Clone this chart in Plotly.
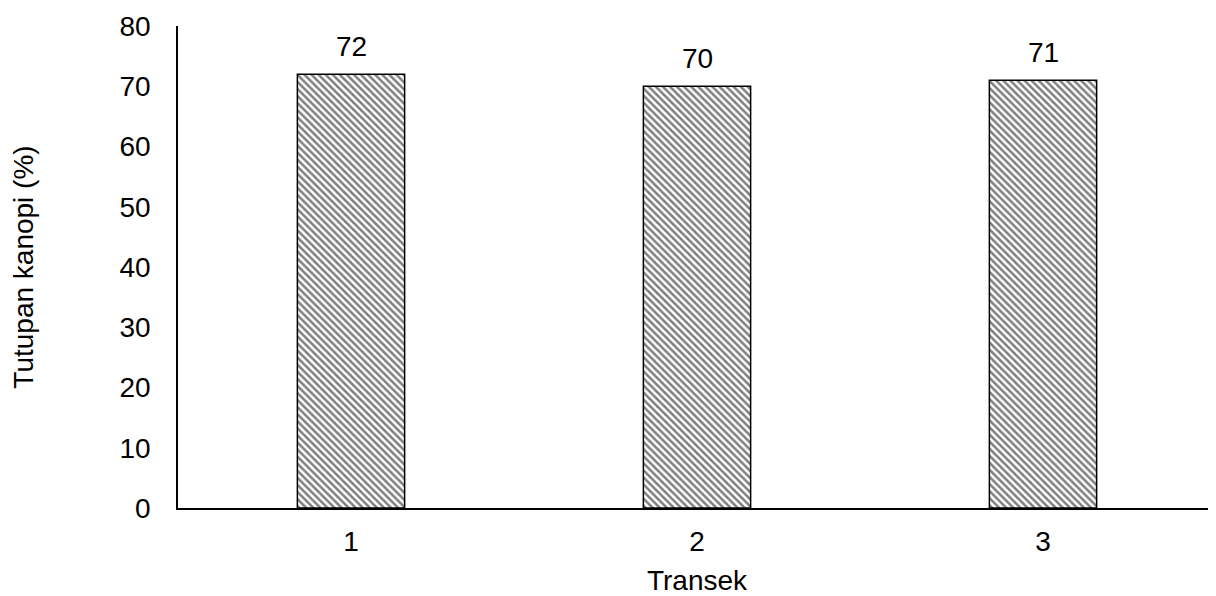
import plotly.graph_objects as go

categories = ["1", "2", "3"]
values = [72, 70, 71]
y_ticks = [0, 10, 20, 30, 40, 50, 60, 70, 80]

FONT = "Liberation Sans, Arial, sans-serif"
FS = 28

fig = go.Figure()
fig.add_trace(go.Bar(
    x=categories, y=values, width=0.31,
    marker=dict(color="white",
                line=dict(color="black", width=1.5),
                pattern=dict(shape="\\", size=5, solidity=0.5,
                             fgcolor="black", bgcolor="white", fillmode="overlay")),
    showlegend=False,
))
for i, v in enumerate(values):
    fig.add_annotation(x=i, y=v, text=str(v), showarrow=False, yanchor="bottom",
                       yshift=10, font=dict(family=FONT, size=FS, color="black"))

fig.update_layout(
    width=1208, height=588,
    margin=dict(l=170, r=0, t=18, b=88, autoexpand=False),
    paper_bgcolor="white", plot_bgcolor="white",
    font=dict(family=FONT, size=FS, color="black"),
    xaxis=dict(type="category", range=[-0.5, 2.5], showline=True, linecolor="black", linewidth=1.5,
               showgrid=False, ticks="", ticklabelstandoff=8, automargin=False,
               title=dict(text="Transek", font=dict(size=FS), standoff=17)),
    yaxis=dict(range=[0, 80], tickvals=y_ticks, showline=True, linecolor="black", linewidth=1.5,
               showgrid=False, ticks="", zeroline=False, ticklabelstandoff=20, automargin=False,
               title=dict(text="Tutupan kanopi (%)", font=dict(size=FS), standoff=78)),
)
fig.write_html("out.html")
